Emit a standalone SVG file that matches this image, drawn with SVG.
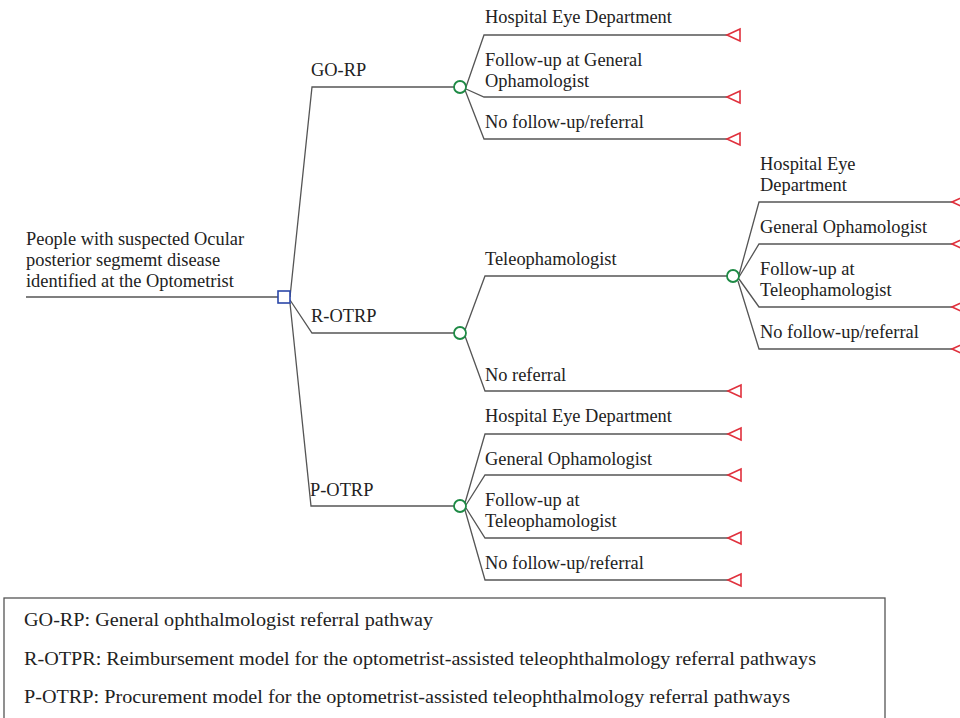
<svg xmlns="http://www.w3.org/2000/svg" width="960" height="718" viewBox="0 0 960 718">
<style>
.t{font-family:"Liberation Serif","Times New Roman",serif;font-size:18.4px;fill:#222}
.lg{font-family:"Liberation Serif","Times New Roman",serif;font-size:19px;fill:#222}
.c{fill:none;stroke:#555;stroke-width:1.3}
.ch{fill:#fff;stroke:#1e8a45;stroke-width:1.8}
.dec{fill:#fff;stroke:#2b47a8;stroke-width:1.6}
.term{fill:#fff;stroke:#e0303c;stroke-width:1.6}
</style>
<defs>
<polygon id="tri" points="0,0 13,-6 13,6" class="term"/>
</defs>
<rect width="960" height="718" fill="#fff"/>
<g id="connectors">
<line class="c" x1="26" y1="297" x2="278" y2="297"/>
<polyline class="c" points="290,297 312,87 454,87"/>
<polyline class="c" points="290,300 312,333 454,333"/>
<polyline class="c" points="290,303 311,506 454,506"/>
<polyline class="c" points="466,87 484,35 727,35"/>
<polyline class="c" points="466,89 484,97 727,97"/>
<polyline class="c" points="465,90 484,139 727,139"/>
<polyline class="c" points="465,330 485,276 727,276"/>
<polyline class="c" points="465,336 485,391 728,391"/>
<polyline class="c" points="739,275 759,202 952,202"/>
<polyline class="c" points="739,277 759,244 952,244"/>
<polyline class="c" points="739,279 759,307 952,307"/>
<polyline class="c" points="738,281 759,349 952,349"/>
<polyline class="c" points="465,503 485,434 728,434"/>
<polyline class="c" points="466,505 485,475 728,475"/>
<polyline class="c" points="466,508 485,538 728,538"/>
<polyline class="c" points="465,510 485,580 728,580"/>
</g>
<g id="root">
<rect class="dec" x="278" y="291" width="12" height="12"/>
<text class="t" x="26" y="245">People with suspected Ocular</text>
<text class="t" x="26" y="266">posterior segmemt disease</text>
<text class="t" x="26" y="287">identified at the Optometrist</text>
</g>
<g id="go-rp">
<circle class="ch" cx="460" cy="87" r="6"/>
<text class="t" x="311" y="76">GO-RP</text>
</g>
<g id="r-otrp">
<circle class="ch" cx="460" cy="333" r="6"/>
<text class="t" x="311" y="322">R-OTRP</text>
</g>
<g id="p-otrp">
<circle class="ch" cx="460" cy="506" r="6"/>
<text class="t" x="310" y="496">P-OTRP</text>
</g>
<g id="tele">
<circle class="ch" cx="733" cy="276" r="6"/>
<text class="t" x="485" y="265">Teleophamologist</text>
</g>
<g id="go-hosp"><use href="#tri" x="727" y="35"/><text class="t" x="485" y="23">Hospital Eye Department</text></g>
<g id="go-follow"><use href="#tri" x="727" y="97"/><text class="t" x="485" y="66">Follow-up at General</text><text class="t" x="485" y="87">Ophamologist</text></g>
<g id="go-none"><use href="#tri" x="727" y="139"/><text class="t" x="485" y="128">No follow-up/referral</text></g>
<g id="r-noref"><use href="#tri" x="728" y="391"/><text class="t" x="485" y="381">No referral</text></g>
<g id="t-hosp"><use href="#tri" x="952" y="202"/><text class="t" x="760" y="170">Hospital Eye</text><text class="t" x="760" y="191">Department</text></g>
<g id="t-gen"><use href="#tri" x="952" y="244"/><text class="t" x="760" y="233">General Ophamologist</text></g>
<g id="t-follow"><use href="#tri" x="952" y="307"/><text class="t" x="760" y="275">Follow-up at</text><text class="t" x="760" y="296">Teleophamologist</text></g>
<g id="t-none"><use href="#tri" x="952" y="349"/><text class="t" x="760" y="338">No follow-up/referral</text></g>
<g id="p-hosp"><use href="#tri" x="728" y="434"/><text class="t" x="485" y="422">Hospital Eye Department</text></g>
<g id="p-gen"><use href="#tri" x="728" y="475"/><text class="t" x="485" y="465">General Ophamologist</text></g>
<g id="p-follow"><use href="#tri" x="728" y="538"/><text class="t" x="485" y="506">Follow-up at</text><text class="t" x="485" y="527">Teleophamologist</text></g>
<g id="p-none"><use href="#tri" x="728" y="580"/><text class="t" x="485" y="569">No follow-up/referral</text></g>
<g id="legend">
<rect x="4" y="598" width="881" height="130" fill="#fff" stroke="#555" stroke-width="1.3"/>
<text class="lg" x="24" y="626" textLength="409" lengthAdjust="spacingAndGlyphs">GO-RP: General ophthalmologist referral pathway</text>
<text class="lg" x="24" y="665" textLength="792" lengthAdjust="spacingAndGlyphs">R-OTPR: Reimbursement model for the optometrist-assisted teleophthalmology referral pathways</text>
<text class="lg" x="24" y="703" textLength="766" lengthAdjust="spacingAndGlyphs">P-OTRP: Procurement model for the optometrist-assisted teleophthalmology referral pathways</text>
</g>
</svg>
